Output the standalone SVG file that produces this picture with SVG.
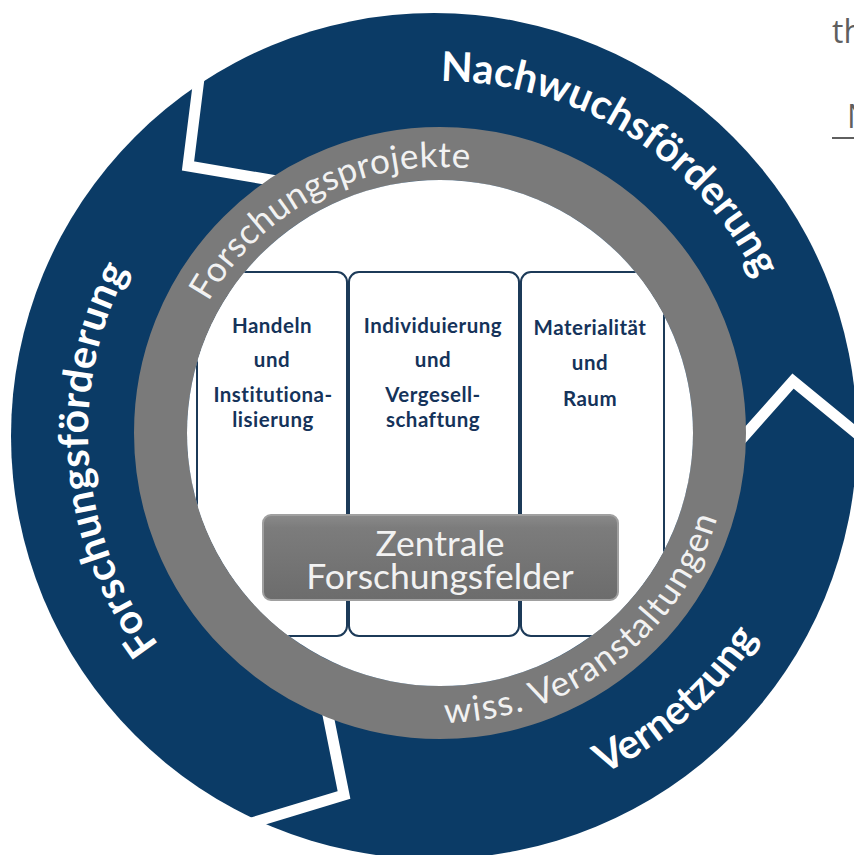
<svg xmlns="http://www.w3.org/2000/svg" width="854" height="855" viewBox="0 0 854 855">
<defs>
<style>
.band{font-family:Lato,"Open Sans",sans-serif;fill:#fff;font-weight:700;font-size:41px}
.ringtxt{font-family:Lato,"Open Sans",sans-serif;fill:#f2f2f2;font-size:35px}
.col{font-family:Lato,"Open Sans",sans-serif;font-weight:700;font-size:20.5px;fill:#15335a;text-anchor:middle;letter-spacing:0.5px}
.colbox{fill:#fff;stroke:#1c3a58;stroke-width:2}
.chev{fill:none;stroke:#fff;stroke-width:11;stroke-linejoin:miter;stroke-miterlimit:10}
.corner{font-family:"Open Sans",Lato,sans-serif;fill:#5f5f5f;font-size:32px}
.zt{font-family:Lato,"Open Sans",sans-serif;font-size:35.5px;fill:#f2f2f2;text-anchor:middle}
</style>
<path id="cw266" d="M440,699 A266,266 0 0 1 440,167 A266,266 0 0 1 440,699"/>
<path id="cw352" d="M440,785 A352,352 0 0 1 440,81 A352,352 0 0 1 440,785"/>
<path id="ccw290" d="M440,143 A290,290 0 0 0 440,723 A290,290 0 0 0 440,143"/>
<path id="ccw378" d="M440,55 A378,378 0 0 0 440,811 A378,378 0 0 0 440,55"/>
<clipPath id="inner"><circle cx="440" cy="433" r="253"/></clipPath>
<linearGradient id="boxg" x1="0" y1="0" x2="0" y2="1">
<stop offset="0" stop-color="#8a8a8a"/><stop offset="0.15" stop-color="#7c7c7c"/><stop offset="1" stop-color="#6c6c6c"/>
</linearGradient>
</defs>
<rect width="854" height="855" fill="#fff"/>

<g id="outer-ring">
<circle cx="434" cy="436" r="423" fill="#0b3b66"/>
</g>

<g id="connectors">
<polyline class="chev" points="199,78 188,166 300,185"/>
<polyline class="chev" points="738,443 793,381 866,441"/>
<polyline class="chev" points="325,700 344,795 245,825"/>
</g>

<g id="gray-ring">
<circle cx="440" cy="433" r="279.5" fill="none" stroke="#7a7a7a" stroke-width="53"/>
<circle cx="440" cy="433" r="253" fill="#fff"/>
</g>

<g id="label-nachwuchs"><text class="band"><textPath href="#cw352" startOffset="58.9%" text-anchor="middle">Nachwuchsförderung</textPath></text></g>
<g id="label-forschungsfoerderung"><text class="band" letter-spacing="0.5"><textPath href="#cw352" startOffset="23.7%" text-anchor="middle">Forschungsförderung</textPath></text></g>
<g id="label-vernetzung"><text class="band"><textPath href="#ccw378" startOffset="61.5%" text-anchor="middle">Vernetzung</textPath></text></g>
<g id="label-projekte"><text class="ringtxt" letter-spacing="0.5"><textPath href="#cw266" startOffset="42.5%" text-anchor="middle">Forschungsprojekte</textPath></text></g>
<g id="label-veranstaltungen"><text class="ringtxt" letter-spacing="1.6"><textPath href="#ccw290" startOffset="60.3%" text-anchor="middle">wiss. Veranstaltungen</textPath></text></g>

<g clip-path="url(#inner)">
<g id="col-handeln">
<rect class="colbox" x="197" y="272" width="150" height="364" rx="10"/>
<text class="col" x="272" y="333">Handeln</text>
<text class="col" x="272" y="367">und</text>
<text class="col" x="273" y="402">Institutiona-</text>
<text class="col" x="273" y="427">lisierung</text>
</g>
<g id="col-individuierung">
<rect class="colbox" x="349" y="272" width="170" height="364" rx="10"/>
<text class="col" x="433" y="333">Individuierung</text>
<text class="col" x="433" y="367">und</text>
<text class="col" x="433" y="402">Vergesell-</text>
<text class="col" x="433" y="427">schaftung</text>
</g>
<g id="col-materialitaet">
<rect class="colbox" x="521" y="272" width="143" height="364" rx="10"/>
<text class="col" x="590" y="335">Materialität</text>
<text class="col" x="590" y="370">und</text>
<text class="col" x="590" y="406">Raum</text>
</g>
</g>

<g id="zentrale">
<rect x="263" y="515" width="355" height="85" rx="8" fill="url(#boxg)" stroke="#a0a0a0" stroke-width="2"/>
<text class="zt" x="440" y="556">Zentrale</text>
<text class="zt" x="440" y="589">Forschungsfelder</text>
</g>

<g id="corner-text">
<text class="corner" x="832" y="43">th</text>
<text class="corner" x="847" y="128">N</text>
<line x1="832" y1="138" x2="854" y2="138" stroke="#5f5f5f" stroke-width="2"/>
</g>
</svg>
